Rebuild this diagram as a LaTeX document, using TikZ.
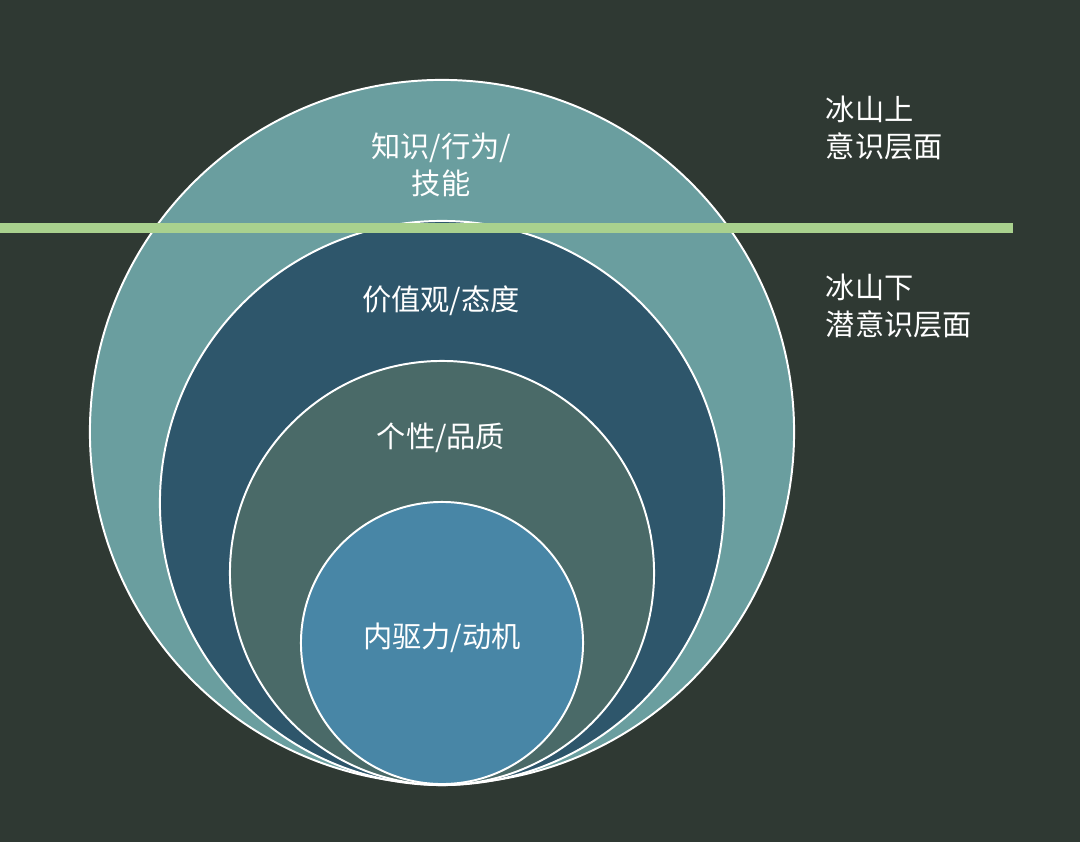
\documentclass[tikz,border=0pt]{standalone}
\usepackage{fontspec}
\setmainfont{Noto Sans CJK SC}
\usetikzlibrary{positioning}
\definecolor{sfondo}{HTML}{2F3933}
\definecolor{cerchioA}{HTML}{6A9E9F}
\definecolor{cerchioB}{HTML}{2E566B}
\definecolor{cerchioC}{HTML}{4A6A68}
\definecolor{cerchioD}{HTML}{4886A6}
\definecolor{linea}{HTML}{A9D18E}
\tikzset{
  % anello dell'iceberg
  ring/.style={circle, draw=white, line width=1.4pt, inner sep=0pt},
  % etichetta negli anelli
  lbl/.style={text=white, align=center, font=\fontsize{20.8}{25.8}\selectfont},
  % etichetta a destra
  side/.style={lbl, align=left, anchor=west},
  % linea di galleggiamento
  waterline/.style={linea, line width=0.25cm},
}

\begin{document}
\begin{tikzpicture}[x=0.025cm, y=-0.025cm]
  \fill[sfondo] (0,0) rectangle (1080,842);
  \useasboundingbox (0,0) rectangle (1080,842);
  \node[ring, fill=cerchioA, minimum size=17.6cm] (c1) at (442,432) {};
  \node[ring, fill=cerchioB, minimum size=14.1cm] (c2) at (442,503) {};
  \node[ring, fill=cerchioC, minimum size=10.6cm] (c3) at (442,573) {};
  \node[ring, fill=cerchioD, minimum size=7.05cm] (c4) at (442,643) {};
  \coordinate (wl) at (0,228);
  \coordinate (wr) at (1013,228);
  \draw[waterline] (wl) -- (wr);
  \node[lbl] (t1) at (441,165) {知识/行为/\\技能};
  \node[lbl] (t2) at (441,301) {价值观/态度};
  \node[lbl] (t3) at (441,438) {个性/品质};
  \node[lbl] (t4) at (442,638) {内驱力/动机};
  \node[side] (sopra) at (821,128) {冰山上\\意识层面};
  \node[side] (sotto) at (821,306) {冰山下\\潜意识层面};
\end{tikzpicture}
\end{document}
